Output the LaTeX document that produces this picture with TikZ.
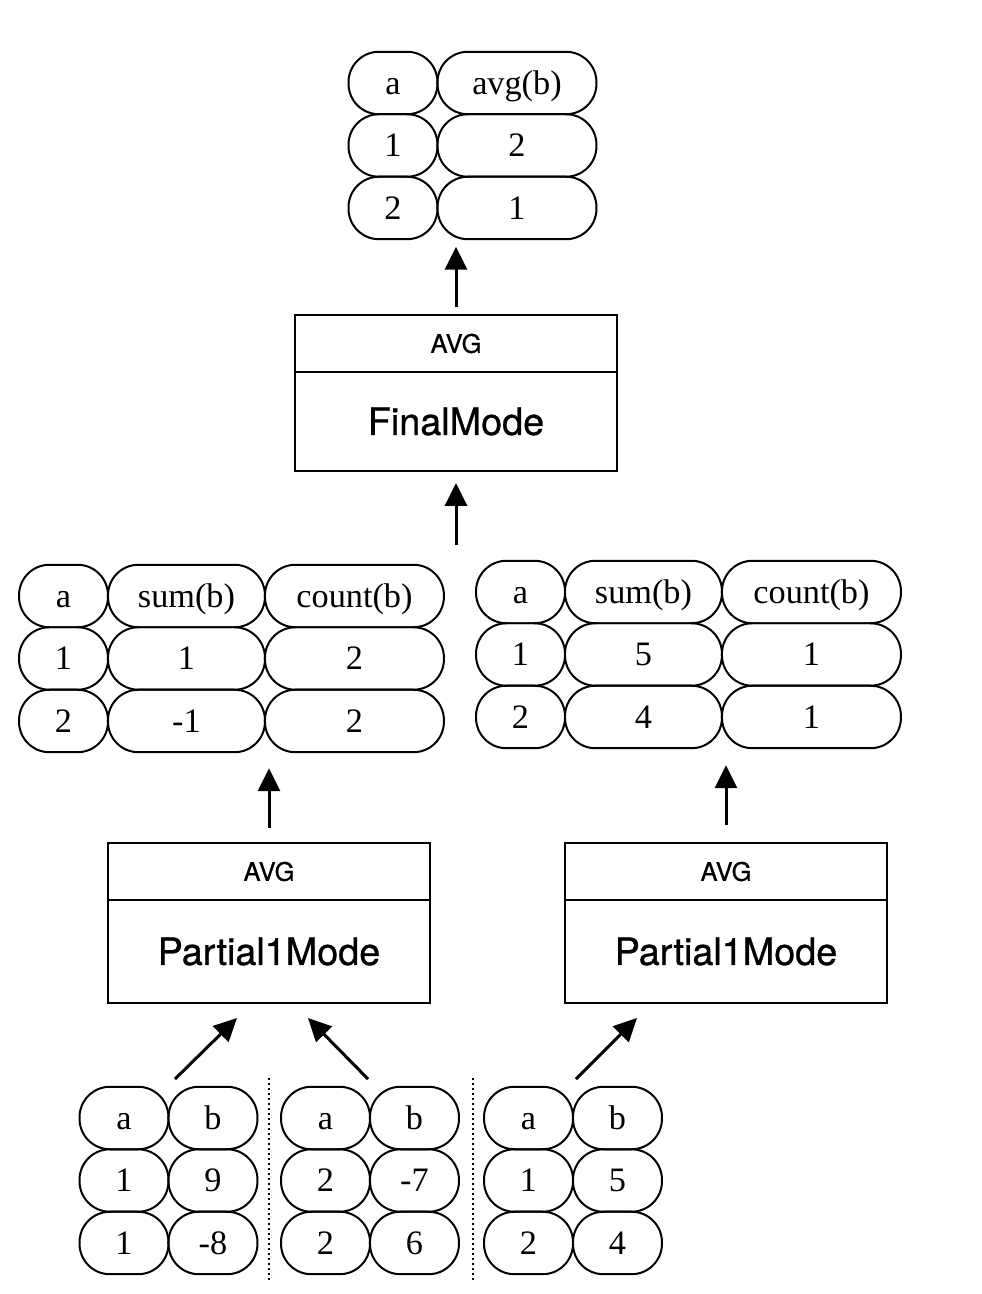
\documentclass[tikz,border=0pt]{standalone}
\usepackage{fontspec}
\setmainfont{Liberation Serif}
\setsansfont{TeX Gyre Heros}
\newfontfamily\modefont[FakeBold=0.8]{TeX Gyre Heros}
\usetikzlibrary{arrows.meta,positioning}

\tikzset{
  cell/.style={draw, line width=0.04cm, rounded corners=0.61cm, minimum height=1.25cm,
    inner sep=0pt, outer sep=0pt, text height=0.45cm, text depth=0pt,
    font=\fontsize{19.5}{22}\selectfont},
  cella/.style={cell, minimum width=1.78cm},
  cellavg/.style={cell, minimum width=3.18cm},
  cellsum/.style={cell, minimum width=3.14cm},
  cellcount/.style={cell, minimum width=3.58cm},
  modehead/.style={draw, line width=0.04cm, outer sep=0pt, minimum width=6.44cm,
    minimum height=1.14cm, font=\modefont\fontsize{14.5}{16}\selectfont},
  modebody/.style={draw, line width=0.04cm, outer sep=0pt, minimum width=6.44cm,
    font=\modefont\fontsize{21.5}{24}\selectfont},
  flow/.style={line width=0.06cm, -{Triangle[length=0.46cm, width=0.44cm]}},
  split/.style={line width=0.04cm, dash pattern=on 0.04cm off 0.06cm}
}

\begin{document}
\begin{tikzpicture}[x=0.02cm, y=-0.02cm]
    \useasboundingbox (0,0) rectangle (982,1294);
    % result table
    \node[cella] (t11) at (393,83) {a};
    \node[cellavg, right=0pt of t11] (t12) {avg(b)};
    \node[cella, below=0pt of t11] (t21) {1};
    \node[cellavg, right=0pt of t21] (t22) {2};
    \node[cella, below=0pt of t21] (t31) {2};
    \node[cellavg, right=0pt of t31] (t32) {1};
    % final aggregation
    \node[modehead] (finalhead) at (456,343.5) {AVG};
    \node[modebody, minimum height=1.98cm, below=0pt of finalhead] (finalbody) {FinalMode};
    \coordinate (merge) at (456,545);
    \draw[flow, shorten <=0.16cm, shorten >=0.15cm] (finalhead.north) -- (finalhead.north |- t31.south);
    \draw[flow, shorten >=0.24cm] (merge) -- (finalbody.south);
    % partial table, left
    \node[cella] (l11) at (63.5,596) {a};
    \node[cellsum, right=0pt of l11] (l12) {sum(b)};
    \node[cellcount, right=0pt of l12] (l13) {count(b)};
    \node[cella, below=0pt of l11] (l21) {1};
    \node[cellsum, right=0pt of l21] (l22) {1};
    \node[cellcount, right=0pt of l22] (l23) {2};
    \node[cella, below=0pt of l21] (l31) {2};
    \node[cellsum, right=0pt of l31] (l32) {-1};
    \node[cellcount, right=0pt of l32] (l33) {2};
    % partial table, right
    \node[cella] (r11) at (520.5,592) {a};
    \node[cellsum, right=0pt of r11] (r12) {sum(b)};
    \node[cellcount, right=0pt of r12] (r13) {count(b)};
    \node[cella, below=0pt of r11] (r21) {1};
    \node[cellsum, right=0pt of r21] (r22) {5};
    \node[cellcount, right=0pt of r22] (r23) {1};
    \node[cella, below=0pt of r21] (r31) {2};
    \node[cellsum, right=0pt of r31] (r32) {4};
    \node[cellcount, right=0pt of r32] (r33) {1};
    % partial aggregations
    \node[modehead] (lefthead) at (269,871.5) {AVG};
    \node[modebody, minimum height=2.06cm, below=0pt of lefthead] (leftbody) {Partial1Mode};
    \node[modehead] (righthead) at (726,871.5) {AVG};
    \node[modebody, minimum height=2.06cm, below=0pt of righthead] (rightbody) {Partial1Mode};
    \draw[flow, shorten <=0.3cm, shorten >=0.32cm] (lefthead.north) -- (lefthead.north |- l31.south);
    \draw[flow, shorten <=0.36cm, shorten >=0.34cm] (righthead.north) -- (righthead.north |- r31.south);
    % input blocks
    \node[cella] (g111) at (124,1118) {a};
    \node[cella, right=0pt of g111] (g112) {b};
    \node[cella, below=0pt of g111] (g121) {1};
    \node[cella, right=0pt of g121] (g122) {9};
    \node[cella, below=0pt of g121] (g131) {1};
    \node[cella, right=0pt of g131] (g132) {-8};
    \node[cella] (g211) at (325.5,1118) {a};
    \node[cella, right=0pt of g211] (g212) {b};
    \node[cella, below=0pt of g211] (g221) {2};
    \node[cella, right=0pt of g221] (g222) {-7};
    \node[cella, below=0pt of g221] (g231) {2};
    \node[cella, right=0pt of g231] (g232) {6};
    \node[cella] (g311) at (528.5,1118) {a};
    \node[cella, right=0pt of g311] (g312) {b};
    \node[cella, below=0pt of g311] (g321) {1};
    \node[cella, right=0pt of g321] (g322) {5};
    \node[cella, below=0pt of g321] (g331) {2};
    \node[cella, right=0pt of g331] (g332) {4};
    % block separators
    \draw[split] (269,1078) -- (269,1282);
    \draw[split] (473,1078) -- (473,1282);
    % blocks to partial aggregations
    \coordinate (in1) at (175,1079);
    \coordinate (in2) at (368,1079);
    \coordinate (in3) at (576,1079);
    \coordinate (to1) at (237,1018);
    \coordinate (to2) at (308,1018);
    \coordinate (to3) at (637,1018);
    \draw[flow] (in1) -- (to1);
    \draw[flow] (in2) -- (to2);
    \draw[flow] (in3) -- (to3);
\end{tikzpicture}
\end{document}
